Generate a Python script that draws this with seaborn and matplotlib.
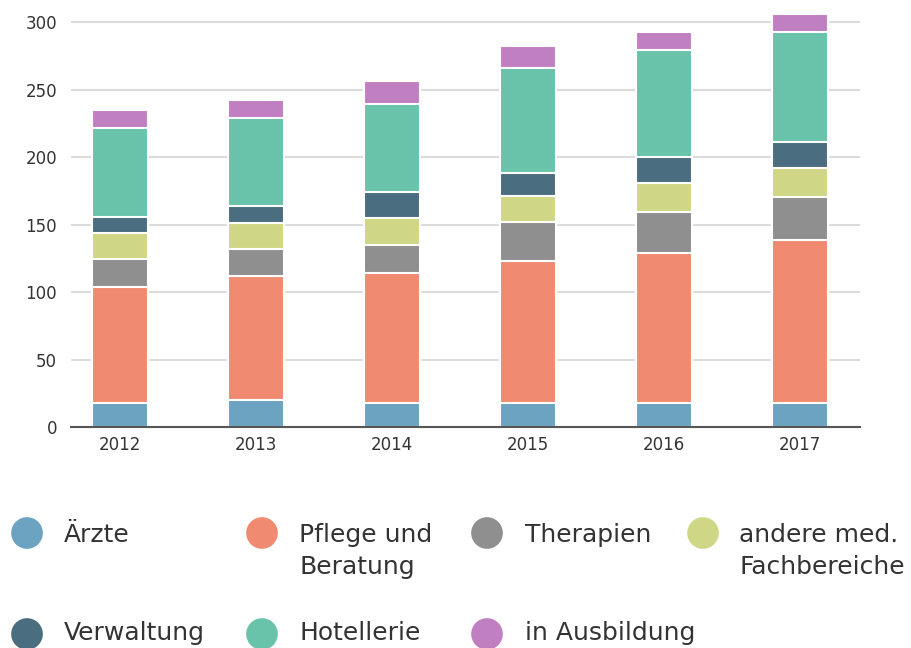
import numpy as np
import pandas as pd
import matplotlib
matplotlib.use("Agg")
import matplotlib.pyplot as plt
import seaborn as sns

years = ["2012", "2013", "2014", "2015", "2016", "2017"]
categories = ["Ärzte", "Pflege und\nBeratung", "Therapien", "andere med.\nFachbereiche",
              "Verwaltung", "Hotellerie", "in Ausbildung"]
aerzte      = [18, 20, 18, 18, 18, 18]
pflege      = [85.5, 92, 96, 105, 110.7, 120.6]
therapien   = [21, 20, 21, 28.5, 30.7, 31.7]
andere      = [19, 19, 19.5, 19.5, 21.3, 21.3]
verwaltung  = [12, 12.5, 19.5, 17, 19.5, 19.8]
hotellerie  = [66, 65.5, 65.5, 78, 78.8, 81.2]
ausbildung  = [13, 13, 17, 16, 13.3, 13.1]
colors = ["#6ba3c0", "#f08a70", "#8f8f8f", "#cfd786", "#4a6d80", "#69c2aa", "#c07fc0"]

series = [aerzte, pflege, therapien, andere, verwaltung, hotellerie, ausbildung]
cum = np.cumsum(np.array(series), axis=0)

sns.set_theme(style="white")
plt.rcParams["font.family"] = ["DejaVu Sans"]

fig = plt.figure(figsize=(9.11, 6.48), dpi=100)
W, H = 911, 648
ax = fig.add_axes([71 / W, 1 - 427 / H, (860 - 71) / W, (427 - 10) / H])

# draw stacked bars from top layer down (cumulative heights)
for i in range(len(categories) - 1, -1, -1):
    df = pd.DataFrame({"Jahr": years, "Wert": cum[i]})
    sns.barplot(data=df, x="Jahr", y="Wert", color=colors[i], width=0.41,
                edgecolor="white", linewidth=1.5, saturation=1, ax=ax, zorder=3)

ax.set_ylim(0, 308.9)
ax.set_xlim(-0.36, 5.44)
ax.set_yticks([0, 50, 100, 150, 200, 250, 300])
ax.yaxis.grid(True, color="#d4d4d4", linewidth=1.2)
ax.set_axisbelow(True)
for s in ["left", "right", "top"]:
    ax.spines[s].set_visible(False)
ax.spines["bottom"].set_color("#555555")
ax.spines["bottom"].set_linewidth(1.5)
ax.spines["bottom"].set_zorder(5)
ax.tick_params(axis="y", length=0, pad=10, labelsize=12, labelcolor="#333333")
ax.tick_params(axis="x", length=0, pad=6.5, labelsize=12, labelcolor="#333333")
ax.set_xlabel("")
ax.set_ylabel("")

# legend drawn in pixel coordinates
lax = fig.add_axes([0, 0, 1, 1])
lax.set_xlim(0, W)
lax.set_ylim(H, 0)
lax.axis("off")
circle_x = [27, 262, 487, 703, 27, 262, 487]
text_x = [64, 299, 525, 739, 64, 299, 525]
row_cy = [533, 533, 533, 533, 634, 634, 634]
row_base = [542, 542, 542, 542, 640, 640, 640]
for i, lab in enumerate(categories):
    lax.scatter([circle_x[i]], [row_cy[i]], s=520, color=colors[i], edgecolors="none")
    for j, line in enumerate(lab.split("\n")):
        lax.text(text_x[i], row_base[i] + j * 32, line, fontsize=18, color="#333333",
                 ha="left", va="baseline")

fig.savefig("out.png", dpi=100)
